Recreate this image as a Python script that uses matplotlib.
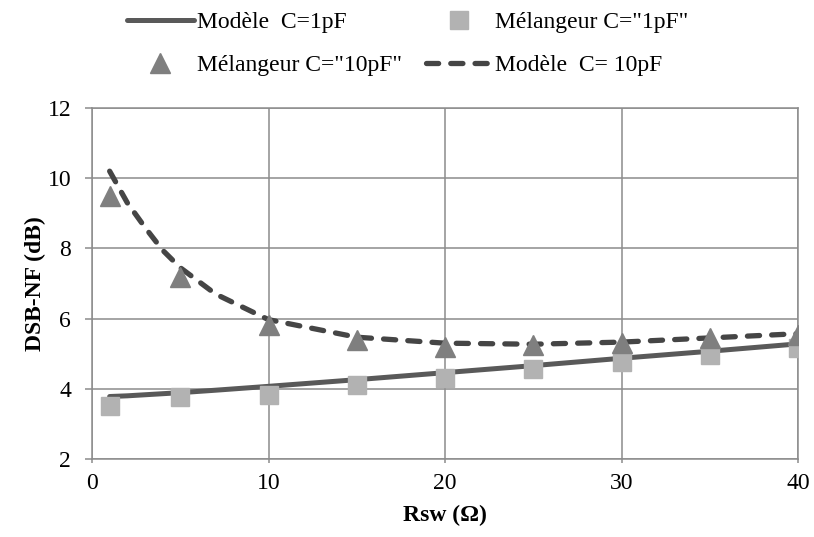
import numpy as np
import matplotlib.pyplot as plt

plt.rcParams['font.family'] = ['Liberation Serif', 'DejaVu Serif']

# Mélangeur (mesures)
rsw_mes = [1, 5, 10, 15, 20, 25, 30, 35, 40]
mel_1pF = [3.5, 3.77, 3.83, 4.1, 4.3, 4.57, 4.77, 4.96, 5.16]
mel_10pF = [9.5, 7.18, 5.82, 5.39, 5.19, 5.25, 5.3, 5.44, 5.53]

# Modèle
rsw_mod = [1, 2, 3, 4, 5, 7, 10, 15, 20, 25, 30, 35, 40]
mod_1pF = [3.78, 3.8, 3.83, 3.86, 3.89, 3.96, 4.07, 4.26, 4.46, 4.66, 4.87, 5.07, 5.28]
mod_10pF = [10.2, 9.3, 8.6, 7.95, 7.45, 6.7, 5.97, 5.47, 5.3, 5.27, 5.33, 5.45, 5.57]

W, H = 814, 537
fig = plt.figure(figsize=(W / 100, H / 100), dpi=100)
ax = fig.add_axes([92 / W, 1 - 459 / H, 706 / W, 351 / H])

l1, = ax.plot(rsw_mod, mod_1pF, color='#595959', lw=3.6, solid_capstyle='round', zorder=3)
s1, = ax.plot(rsw_mes, mel_1pF, ls='none', marker='s', ms=13.5, color='#b2b2b2', zorder=4)
t1, = ax.plot(rsw_mes, mel_10pF, ls='none', marker='^', ms=14, color='#7f7f7f', zorder=4)
l2, = ax.plot(rsw_mod, mod_10pF, color='#454545', lw=3.8, ls=(0, (2.3, 2.3)),
              dash_capstyle='round', zorder=3)

ax.set_xlim(0, 40)
ax.set_ylim(2, 12)
ax.set_xticks([0, 10, 20, 30, 40])
ax.set_yticks([2, 4, 6, 8, 10, 12])
ax.grid(True, color='#8c8c8c', lw=1.1)
ax.set_axisbelow(True)
for sp in ax.spines.values():
    sp.set_color('#8c8c8c')
    sp.set_linewidth(1.1)
ax.tick_params(labelsize=17, color='#8c8c8c', direction='out', width=1.1)
ax.tick_params(axis='y', length=5, pad=10)
ax.tick_params(axis='x', length=3, pad=7)
ax.set_xlabel('Rsw (Ω)', fontsize=17, fontweight='bold', labelpad=8)
ax.set_ylabel('DSB-NF (dB)', fontsize=17, fontweight='bold', labelpad=1)

fig.legend([l1, t1, s1, l2],
           ['Modèle  C=1pF', 'Mélangeur C="10pF"', 'Mélangeur C="1pF"', 'Modèle  C= 10pF'],
           ncol=2, loc='center', bbox_to_anchor=(408 / W, 1 - 44 / H), frameon=False,
           fontsize=17, handlelength=2.8, columnspacing=1.0, handletextpad=0.15,
           labelspacing=0.9, borderpad=0)

fig.savefig('out.png', dpi=100)
